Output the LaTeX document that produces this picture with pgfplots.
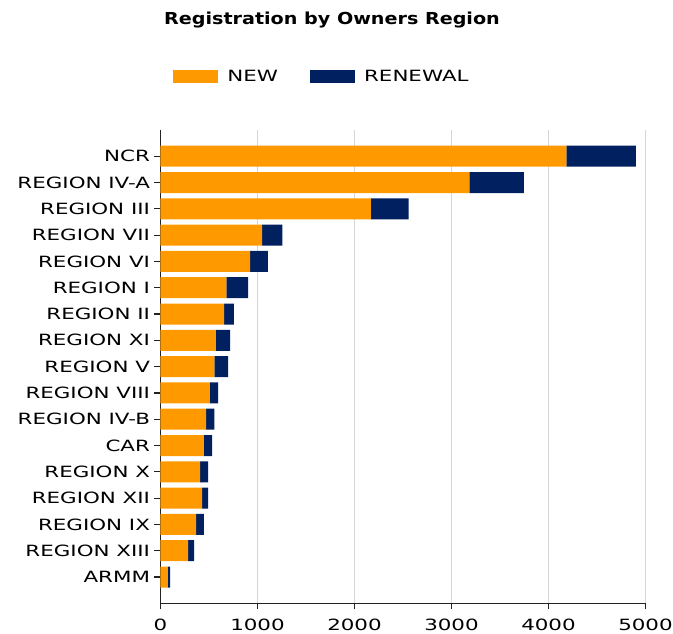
\documentclass[border=0pt]{standalone}
\usepackage{fontspec}
\usepackage{pgfplots}
\pgfplotsset{compat=1.18}
\newfontfamily\chartfont[FakeStretch=1.38]{DejaVu Sans}
\newfontfamily\titlefont[FakeStretch=1.16]{DejaVu Sans}
\definecolor{neworange}{HTML}{FF9900}
\definecolor{renavy}{HTML}{002060}
\definecolor{gridgray}{HTML}{D6D6D6}
\definecolor{axisgray}{HTML}{222222}
\begin{document}
\begin{tikzpicture}
\begin{axis}[
  scale only axis, width=485pt, height=473.4pt,
  xbar stacked, bar width=21pt,
  xmin=0, xmax=5000, ymin=-1, ymax=17, y dir=reverse,
  ytick={0,...,16},
  yticklabels={NCR, REGION IV-A, REGION III, REGION VII, REGION VI, REGION I, REGION II, REGION XI, REGION V, REGION VIII, REGION IV-B, CAR, REGION X, REGION XII, REGION IX, REGION XIII, ARMM},
  xtick={0,1000,2000,3000,4000,5000},
  scaled ticks=false,
  /pgf/number format/1000 sep={},
  /pgf/number format/assume math mode=true,
  axis x line*=bottom, axis y line*=left,
  axis line style={draw=axisgray, line width=1.2pt},
  tick align=outside, major tick length=6pt,
  tick style={draw=axisgray, line width=1.2pt},
  xmajorgrids, grid style={draw=gridgray, line width=1.6pt},
  ticklabel style={font=\chartfont\fontsize{15.5}{18}\selectfont, text=black},
  yticklabel style={xshift=-1pt},
  xticklabel style={yshift=-6pt},
  title={Registration by Owners Region},
  title style={font=\titlefont\bfseries\fontsize{16.5}{20}\selectfont, at={(0.3536,1)}, anchor=base, yshift=99pt},
  legend entries={NEW, RENEWAL},
  legend columns=2,
  legend style={at={(0.333,1)}, anchor=center, yshift=53pt, draw=none, fill=none,
    font=\chartfont\fontsize{15.5}{18}\selectfont,
    /tikz/every even column/.append style={column sep=30pt}},
]
\addplot[fill=neworange, draw=none,
  legend image code/.code={\fill[neworange] (0pt,-6.5pt) rectangle (45pt,6.5pt); \path (52pt,0pt);}]
  coordinates {(4185,0) (3185,1) (2169,2) (1047,3) (923,4) (679,5) (657,6) (572,7) (555,8) (510,9) (470,10) (444,11) (408,12) (430,13) (368,14) (284,15) (75,16)};
\addplot[fill=renavy, draw=none,
  legend image code/.code={\fill[renavy] (0pt,-6.5pt) rectangle (45pt,6.5pt); \path (52pt,0pt);}]
  coordinates {(715,0) (560,1) (390,2) (210,3) (185,4) (225,5) (100,6) (147,7) (142,8) (84,9) (85,10) (88,11) (84,12) (62,13) (80,14) (62,15) (23,16)};
\end{axis}
\pgfresetboundingbox
\path[use as bounding box] (-160.5pt,-30.7pt) rectangle (512.5pt,603.3pt);
\end{tikzpicture}
\end{document}
